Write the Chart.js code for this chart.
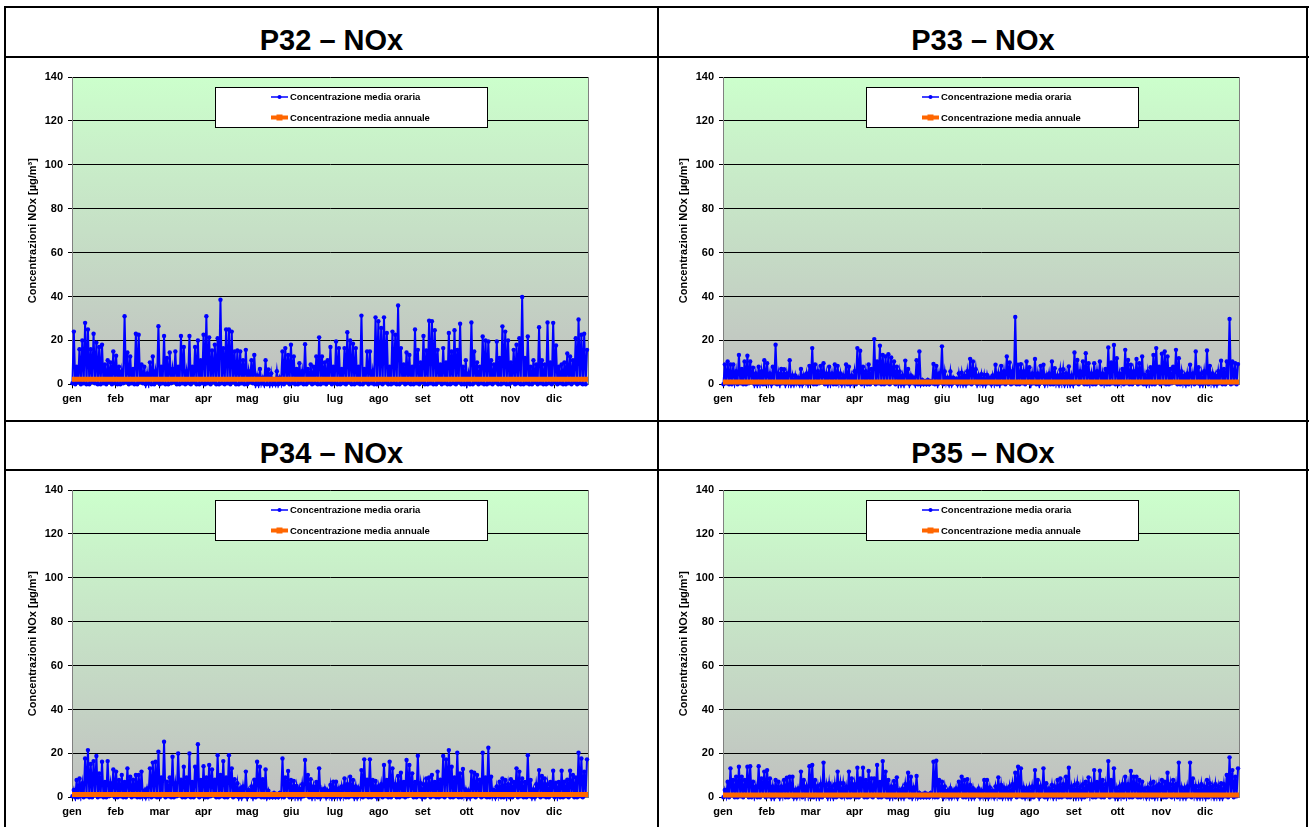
<!DOCTYPE html>
<html>
<head>
<meta charset="utf-8">
<script src="https://cdn.jsdelivr.net/npm/chart.js@4.4.1/dist/chart.umd.min.js"></script>
<style>
  html, body { margin: 0; padding: 0; background: #fff; }
  #wrap { position: relative; width: 1309px; height: 827px; overflow: hidden; font-family: Arial, "Liberation Sans", sans-serif; }
  .ln { position: absolute; background: #000; z-index: 5; }
  .ttl { position: absolute; font-weight: bold; font-size: 29px; line-height: 29px; text-align: center; color: #000; }
  canvas { position: absolute; }
</style>
</head>
<body>
<div id="wrap">
  <div class="ttl" style="left:6px;top:26px;width:651px;">P32 – NOx</div>
  <div class="ttl" style="left:659px;top:26px;width:648px;">P33 – NOx</div>
  <div class="ttl" style="left:6px;top:439px;width:651px;">P34 – NOx</div>
  <div class="ttl" style="left:659px;top:439px;width:648px;">P35 – NOx</div>
  <canvas id="c32" width="651" height="362" style="left:6px;top:58px;width:651px;height:362px;"></canvas>
  <canvas id="c33" width="651" height="362" style="left:657px;top:58px;width:651px;height:362px;"></canvas>
  <canvas id="c34" width="651" height="356" style="left:6px;top:471px;width:651px;height:356px;"></canvas>
  <canvas id="c35" width="651" height="356" style="left:657px;top:471px;width:651px;height:356px;"></canvas>
  <div class="ln" style="left:4px;top:6px;width:1305px;height:2px;"></div>
  <div class="ln" style="left:4px;top:6px;width:2px;height:821px;"></div>
  <div class="ln" style="left:657px;top:6px;width:2px;height:821px;"></div>
  <div class="ln" style="left:1306px;top:6px;width:2px;height:821px;"></div>
  <div class="ln" style="left:4px;top:56px;width:1305px;height:2px;"></div>
  <div class="ln" style="left:4px;top:420px;width:1305px;height:2px;"></div>
  <div class="ln" style="left:4px;top:469px;width:1305px;height:2px;"></div>
</div>
<script>
// ---- data ----
const months = ["gen","feb","mar","apr","mag","giu","lug","ago","set","ott","nov","dic"];
const hoursPerYear = 8760;
const monthTickHours = 744;
const seriesLabel = "Concentrazione media oraria";
const meanLabel = "Concentrazione media annuale";
const yTitle = "Concentrazioni NOx [µg/m³]";

// two-day bins: maximum (High) and minimum (Low) hourly concentration
const p32High = [24,8,16,20,28,25,16,23,19,17, 18,9,11,10,15,13,8,6,31,14.5, 12.7,7,23,22.6,9,8,5,10,12.7,6,
  26.5,8,22,12,14.5,7,15,8,22,17, 6,22,8,17,20,11,22.6,31,21.4,15.4, 18,21,38.5,16.5,25,25,24,15,15.4,15,
  11,15.7,6,11,13.4,4,7,3,11,6.8, 5,2,6,3,15,16.5,13.4,18,12.7,7, 9.6,6,18.3,7,9,8,12.7,21.4,12.7,10,
  11,17,8,19.5,16.5,7,16.5,23.7,20,18.5, 16.5,8,31.3,7,15,15,6,30.5,28.7,25.7, 30.5,23.4,8,24,22.6,35.9,16.5,9,14.5,13.4,
  8,25,15.7,10,22,15.4,29,28.7,24.6,15.7, 9,16.5,10,23.4,15,24.6,15.7,27.6,8,11, 5,28.2,15,10,8,21.8,20,19.5,11,9,
  19.5,12,26.4,24,20,10,15.7,18,21,39.8, 12,21.8,8,11,9,26,11,9,28.2,10, 28,17.7,8,9,10,14,12.7,11,21,29.5, 22.6,23,15.7];
const p32Low = [0.5,0,1,0,0.5,0,0,1,0.5,0, 0,0.5,0,1,0,0.5,0,0,0.5,1, 0,0.5,0,0,1,0.5,0,0.5,0,0,
  1,0,0.5,0,0,0.5,1,0,0,0.5, 0,0.5,0,1,0,0,0.5,0,0.5,0, 1,0,0,0.5,0,0.5,0,1,0,0,
  0.5,0,0,1,0.5,0,0,0.5,0,0, 0,0,0,0,0.5,0,1,0,0.5,0, 0,0.5,0,0,1,0,0.5,0,0,0.5,
  0,1,0,0.5,0,0,0.5,0,1,0, 0,0.5,0,0,1,0,0.5,0,0,0.5, 0,1,0,0,0.5,0,0,1,0,0.5,
  0,0,0.5,0,1,0,0,0.5,0,0, 1,0,0.5,0,0,0.5,0,1,0,0, 0.5,0,0,1,0,0.5,0,0,0.5,0,
  1,0,0,0.5,0,0,1,0,0.5,0, 0,0.5,0,0,1,0,0.5,0,0,0.5, 0,1,0,0.5,0,0,0.5,0,1,0, 0.5,0,0];
const p32Mean = 2.3;

const p33High = [9,10.4,9,9,6,13.4,7,10.4,13,10.4, 7.6,5,8,6,11,9.6,5,8,18,5, 7,6.9,5,11,4,4,3,7,4,5,
  8.4,16.5,9,6,8.4,9.6,5,8,5,9, 8.4,5,4,9,8,4,6,16.5,15.3,8, 6,9,7,20.6,10.4,17.6,13.4,12.7,13.7,12.2,
  10.4,8,5.8,4,10.8,7,4,3,11,15, 2,1.5,2,1.5,9.3,8.4,5,17.3,5.8,3, 5.8,3,2.5,5,5.3,4,6,11.6,10.4,6.9,
  4,4.6,4.3,4.3,3,4,8.9,5,8.4,6, 12.7,9.9,6,30.7,8.9,9.2,6,10.4,7.8,5, 11.5,5,8.4,8.9,4,5,10.4,7.3,4,6.6,
  6.9,5,8.1,4,14.5,11.1,6,10.4,14.2,9.6, 5,9.6,6,10.4,5,7,16.8,9.9,17.9,11.9, 5,7,15.7,11.1,8.9,6,11.5,9.6,12.7,4.3,
  5.8,7.8,13.4,16.5,8,13.9,15,12.7,7,8, 15.7,11.9,5.8,4,5,8.9,5,15,7.8,5, 6,15.4,8.4,5,4,6,10.7,7,10.4,29.8, 10.4,9.6,9.2];
const p33Low = [0,0.5,0,0,1,0,0.5,0,0,0.5, 1,0,0,0.5,0,0,1,0,0.5,0, 0,0.5,0,1,0,0,0.5,0,0,1,
  0,0.5,0,0,0.5,1,0,0,0.5,0, 0,1,0,0.5,0,0,0.5,0,1,0, 0.5,0,0,1,0,0.5,0,0,0.5,0,
  1,0,0.5,0,0,0.5,0,1,0,0, 0,0,0,0,0.5,0,0,1,0,0.5, 0,0,1,0,0.5,0,0,0.5,0,1,
  0,0.5,0,0,1,0,0.5,0,0,0.5, 0,1,0,0.5,0,0,0.5,0,1,0, 0.5,0,0,1,0,0.5,0,0,0.5,0,
  1,0,0.5,0,0,0.5,0,1,0,0, 0.5,0,0,1,0,0.5,0,0,0.5,0, 0,1,0,0.5,0,0,1,0,0.5,0,
  0,0.5,0,0,1,0,0.5,0,0,0.5, 1,0,0,0.5,0,0,1,0,0.5,0, 0,0.5,0,1,0,0,0.5,0,0,1, 0,0.5,0];
const p33Mean = 1.1;

const p34High = [3.3,7.9,8.6,6.4,17.7,21.5,15.2,16.5,18.8,10.9, 16.2,7,16.5,6.4,12.7,11.7,7.9,10.2,7,13.2, 9.4,8,10.2,10.2,11.7,3,4,13.2,15.8,16.2,
  20.8,9,25.3,7.1,9,18.5,6.4,20,8,13.9, 9.1,20,7,13.9,24.2,7.9,14.2,9,14.7,12.7, 8,19.2,10.2,16.5,9,19.2,13.2,8.2,6.4,4,
  5,11.7,3.3,5,8,16.2,13.9,8.2,12.7,3, 1.5,2,1.5,2,17.7,9,12,7.9,7.4,5.2, 4,6,17,10.2,8.2,5,7,13.2,3.6,4,
  3,5.6,7.1,7.1,4,5,8.6,6,9.4,7.9, 5,4,12.4,17.3,8,17.3,7.9,7.4,5,6, 14.7,7.9,16.2,13.2,6,9.7,11.2,7,17,14.7,
  10.9,7,18.9,6.4,6,8.6,9.1,10.2,7,11.7, 8,18.8,17.3,21.5,13.9,9,20.3,10.9,12.9,3.6, 3,11.7,11.2,10.2,8,20.3,9,22.6,9.4,3.3,
  5,7.1,8.6,7.9,6,8.2,7,13.2,11.7,8.6, 7,19.2,7.9,3.6,6,12.4,9.7,8.6,6,7, 12.1,6.7,7,12.1,7.1,8,12.1,10.2,9,20.3, 17.7,11.7,17.3];
const p34Low = [0.5,0,0,1,0,0.5,0,0,1,0, 0.5,0,0,0.5,1,0,0,0.5,0,0, 1,0,0.5,0,0,0.5,0,1,0,0.5,
  0,0,1,0,0.5,0,0,0.5,1,0, 0,0.5,0,0,1,0,0.5,0,0,0.5, 1,0,0,0.5,0,0,1,0,0.5,0,
  0,0.5,0,1,0,0,0.5,0,0,0, 0,0,0,0,0.5,0,1,0,0,0.5, 0,0,0.5,1,0,0,0.5,0,0,1,
  0,0.5,0,0,0.5,0,1,0,0,0.5, 0,0,1,0,0.5,0,0,0.5,0,1, 0,0.5,0,0,1,0,0,0.5,0,0.5,
  1,0,0,0.5,0,0,1,0,0.5,0, 0,0.5,0,1,0,0,0.5,0,0,1, 0,0,0.5,0,1,0,0.5,0,0,0.5,
  0,1,0,0,0.5,0,0,1,0,0.5, 0,0,0.5,0,0,1,0,0.5,0,0, 1,0,0.5,0,0,0.5,0,1,0,0, 0.5,0,1];
const p34Mean = 1.3;

const p35High = [3.3,7.1,13.2,7.9,9.4,13.9,9.4,7.9,13.9,14.2, 7.1,5,14.2,8.6,11.7,12.4,8.6,5,7.9,7.1, 5,7.9,8.9,9.4,9.4,3.3,4,11.7,7.9,5,
  14.2,14.7,7.9,5.2,6,15.8,5.6,6.4,5,6, 11.7,6.4,6.4,5,11.7,8.6,6,13.5,8.6,13.5, 7.9,12,8.6,8.6,14.7,7,16.5,11.7,7.9,5,
  7.4,9.1,3.3,4,6,11.2,9.4,4.5,9.7,2, 1.5,2,1.5,2,16.2,16.7,7.9,7.1,5,3, 4.1,3,4,7.1,9.4,7.9,8.3,5.6,4.1,3,
  4,3,7.9,7.9,4.5,3,5,9.1,5.6,4.5, 4,5,6,11.2,13.9,13.2,4.5,4,4.5,5, 12.4,7.9,5,13.2,6.4,4,5.6,5,7.9,8.6,
  6,9.4,13.5,5,5.6,6.4,5,6,7.1,9.1, 6,12.4,7,12.1,7.9,6,16.5,7.9,13.2,4.1, 5,6,9.4,6,12,9.4,9.4,7.9,7.1,4,
  4.5,6.4,7.1,5,6,7.9,7.1,11.2,6,7.9, 6,15.8,4.5,4.1,5,15.8,8.6,5.2,5,6, 5,7.9,6.4,5,6,5,6.4,6,10.2,18.2, 12.4,9.4,13.2];
const p35Low = [0,0.5,0,1,0,0,0.5,0,1,0, 0,0.5,0,0,1,0,0.5,0,0,0.5, 0,1,0,0,0.5,0,0,1,0,0.5,
  1,0,0,0.5,0,0,1,0,0.5,0, 0,0.5,0,1,0,0,0.5,0,0,1, 0,0,0.5,0,1,0,0,0.5,0,0,
  0.5,0,1,0,0,0.5,0,0,1,0, 0,0,0,0,0.5,0,0,1,0,0.5, 0,0,0.5,0,1,0,0,0.5,0,0,
  1,0,0.5,0,0,0.5,0,1,0,0, 0.5,0,0,1,0,0.5,0,0,0.5,0, 0,1,0,0.5,0,0,1,0,0.5,0,
  0,0.5,0,0,1,0,0.5,0,0,0.5, 1,0,0,0.5,0,0,1,0,0.5,0, 0,0.5,0,1,0,0,0.5,0,0,1,
  0,0.5,0,0,0.5,1,0,0,0.5,0, 1,0,0.5,0,0,0.5,0,1,0,0, 0.5,0,0,1,0,0.5,0,0,0.5,0, 1,0,0.5];
const p35Mean = 1.1;

// ---- build ----
const PLOT_TOP = 19, PLOT_H = 307.3, Y_AXIS_W = 66, PAD_RIGHT = 69;
const FONT = "Arial, 'Liberation Sans', sans-serif";

function buildHourly(high, low) {
  const step = hoursPerYear / high.length;
  const pts = [];
  for (let i = 0; i < high.length; i++) {
    pts.push({ x: i * step + 0.15 * step, y: low[i] });
    pts.push({ x: i * step + 0.65 * step, y: high[i] });
  }
  return pts;
}

const bgPlugin = {
  id: 'bg',
  beforeDraw(chart) {
    const { ctx, chartArea: a } = chart;
    const g = ctx.createLinearGradient(0, a.top, 0, a.bottom);
    g.addColorStop(0, '#CCFFCC');
    g.addColorStop(1, '#C0C0C0');
    ctx.save();
    ctx.fillStyle = g;
    ctx.fillRect(a.left, a.top, a.right - a.left, a.bottom - a.top);
    ctx.restore();
  },
  beforeDatasetsDraw(chart) {
    const { ctx, chartArea: a } = chart;
    ctx.save();
    ctx.strokeStyle = '#808080';
    ctx.lineWidth = 1;
    ctx.beginPath();
    ctx.moveTo(Math.round(a.right) + 0.5, a.top);
    ctx.lineTo(Math.round(a.right) + 0.5, a.bottom);
    ctx.stroke();
    ctx.restore();
  }
};

const legendPlugin = {
  id: 'boxLegend',
  afterDatasetsDraw(chart) {
    const { ctx, chartArea: a } = chart;
    const x = Math.round(a.left + 143), y = Math.round(a.top + 10), w = 272, h = 40;
    ctx.save();
    ctx.fillStyle = '#fff';
    ctx.fillRect(x, y, w, h);
    ctx.strokeStyle = '#000';
    ctx.lineWidth = 1;
    ctx.strokeRect(x + 0.5, y + 0.5, w, h);
    const items = [chart.data.datasets[0], chart.data.datasets[1]];
    items.forEach((ds, k) => {
      const cy = y + 10 + k * 20.5;
      ctx.strokeStyle = ds.borderColor;
      ctx.lineWidth = k === 0 ? 1.5 : 4;
      ctx.beginPath();
      ctx.moveTo(x + 56, cy);
      ctx.lineTo(x + 73, cy);
      ctx.stroke();
      ctx.fillStyle = ds.borderColor;
      if (k === 0) {
        ctx.beginPath(); ctx.arc(x + 64.5, cy, 2, 0, Math.PI * 2); ctx.fill();
      } else {
        ctx.fillRect(x + 61.5, cy - 3, 6, 6);
      }
      ctx.fillStyle = '#000';
      ctx.font = 'bold 9.5px ' + FONT;
      ctx.textBaseline = 'middle';
      ctx.textAlign = 'left';
      ctx.fillText(ds.label, x + 75, cy + 0.5);
    });
    ctx.restore();
  }
};

function makeChart(id, high, low, mean) {
  const canvas = document.getElementById(id);
  const H = canvas.height;
  const xAxisH = H - PLOT_TOP - PLOT_H;
  new Chart(canvas, {
    type: 'line',
    data: {
      datasets: [
        {
          label: seriesLabel,
          data: buildHourly(high, low),
          borderColor: '#0000FF',
          backgroundColor: '#0000FF',
          borderWidth: 2,
          pointRadius: 2.2,
          pointBorderWidth: 0,
          pointBackgroundColor: '#0000FF',
          tension: 0,
          order: 1,
          clip: 4
        },
        {
          label: meanLabel,
          data: [{ x: 0, y: mean }, { x: hoursPerYear, y: mean }],
          borderColor: '#FF6600',
          backgroundColor: '#FF6600',
          borderWidth: 5,
          pointRadius: 0,
          order: 0,
          clip: 4
        }
      ]
    },
    options: {
      responsive: false,
      animation: false,
      events: [],
      layout: { padding: { top: PLOT_TOP, right: PAD_RIGHT, bottom: 0, left: 0 } },
      plugins: { legend: { display: false }, tooltip: { enabled: false }, title: { display: false } },
      scales: {
        x: {
          type: 'linear',
          min: 0,
          max: hoursPerYear,
          afterBuildTicks(s) { s.ticks = months.map((m, k) => ({ value: k * monthTickHours })); },
          afterFit(s) { s.height = xAxisH; },
          grid: { drawOnChartArea: false, drawTicks: true, tickLength: 4, color: '#000' },
          border: { color: '#808080' },
          ticks: {
            autoSkip: false, maxRotation: 0, minRotation: 0, padding: 4, color: '#000',
            font: { family: FONT, size: 11, weight: 'bold' },
            callback: (v, i) => months[i]
          }
        },
        y: {
          min: 0, max: 140,
          afterFit(s) { s.width = Y_AXIS_W; },
          grid: { color: '#000', lineWidth: 1, drawTicks: true, tickLength: 4 },
          border: { color: '#808080' },
          ticks: { stepSize: 20, padding: 5, color: '#000', font: { family: FONT, size: 11, weight: 'bold' } },
          title: { display: true, text: yTitle, color: '#000', padding: { top: 20, bottom: 0 },
                   font: { family: FONT, size: 11, weight: 'bold' } }
        }
      }
    },
    plugins: [bgPlugin, legendPlugin]
  });
}

makeChart('c32', p32High, p32Low, p32Mean);
makeChart('c33', p33High, p33Low, p33Mean);
makeChart('c34', p34High, p34Low, p34Mean);
makeChart('c35', p35High, p35Low, p35Mean);
</script>
</body>
</html>
